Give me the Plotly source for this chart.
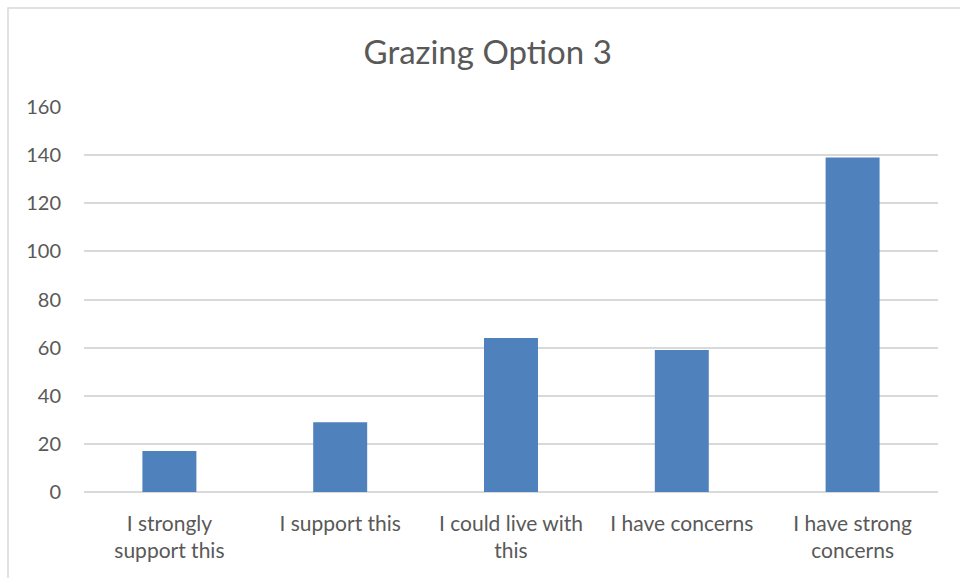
import plotly.graph_objects as go

categories = ["I strongly<br>support this", "I support this", "I could live with<br>this",
              "I have concerns", "I have strong<br>concerns"]
values = [17, 29, 64, 59, 139]
y_ticks = [0, 20, 40, 60, 80, 100, 120, 140, 160]

W, H = 960, 578
L, R, T, B = 84, 22, 107, 86
pw, ph = W - L - R, H - T - B
FONT = "Lato, Carlito, Calibri, sans-serif"

fig = go.Figure(go.Bar(x=categories, y=values, marker=dict(color="#4f81bd", line=dict(width=0))))

def px_x(p):
    return (p - L) / pw

def px_y(p):
    return (H - B - p) / ph

fig.update_layout(
    width=W, height=H,
    margin=dict(l=L, r=R, t=T, b=B),
    paper_bgcolor="white", plot_bgcolor="white",
    bargap=0.684,
    showlegend=False,
    font=dict(family=FONT, color="#595959", size=20),
    title=dict(text="Grazing Option 3", x=0.508, xanchor="center", y=1 - 52 / H, yanchor="middle",
               font=dict(size=33, color="#595959", family=FONT)),
    shapes=[dict(type="rect", xref="paper", yref="paper",
                 x0=px_x(8), x1=px_x(975), y0=px_y(590), y1=px_y(8),
                 line=dict(color="#d9d9d9", width=1.5), fillcolor="rgba(0,0,0,0)", layer="below")],
)
fig.update_xaxes(showgrid=False, showline=False, zeroline=False, ticks="",
                 tickfont=dict(size=21, color="#595959"), ticklabelstandoff=17)
fig.update_yaxes(range=[0, 160], tickvals=y_ticks, showgrid=True, gridcolor="#d9d9d9", gridwidth=1.5,
                 zeroline=True, zerolinecolor="#d9d9d9", zerolinewidth=1.5, showline=False, ticks="",
                 tickfont=dict(size=20, color="#595959"), ticklabelstandoff=22)

fig.write_html("out.html", config={"displayModeBar": False},
               post_script="document.body.style.margin='0';document.body.style.overflow='hidden';")
